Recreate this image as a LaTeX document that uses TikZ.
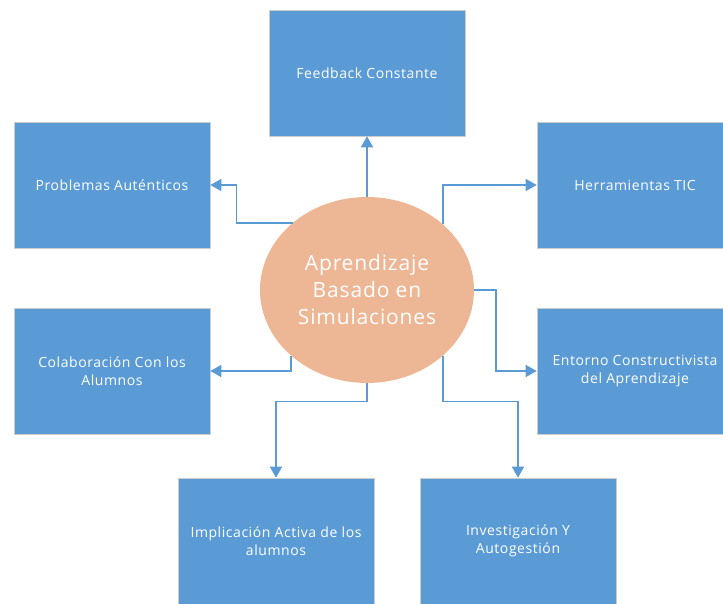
\documentclass[tikz,border=0pt]{standalone}
\usepackage{fontspec}
\setmainfont{Open Sans}
\newfontfamily\spacedfont[LetterSpace=4]{Open Sans}
\usepackage{tikz}
\usetikzlibrary{arrows.meta,shapes,calc}

\definecolor{boxblue}{RGB}{91,155,213}
\definecolor{salmon}{RGB}{237,183,150}

\begin{document}
\begin{tikzpicture} [ x=1pt, y=1pt,
		      every node/.style={text=white, align=center},
		      item/.style={rectangle, fill=boxblue, draw=black!20, line width=0.6pt,
		                   minimum width=196pt, minimum height=126pt,
		                   font=\spacedfont\fontsize{14}{18}\selectfont},
		      hub/.style={ellipse, fill=salmon, minimum width=214pt, minimum height=186pt,
		                  inner sep=0pt, font=\spacedfont\fontsize{21}{27}\selectfont},
		      link/.style={draw=boxblue, line width=1.6pt,
		                   -{Triangle[width=12pt,length=11pt]}}
		    ]
  \useasboundingbox (0,0) rectangle (723,604);

  \node[hub] (sim) at (367,314) {Aprendizaje\\Basado en\\Simulaciones};

  \node[item] (feed) at (367,531) {Feedback Constante};
  \node[item] (prob) at (112,419) {Problemas Auténticos};
  \node[item] (herr) at (635,419) {Herramientas TIC};
  \node[item] (colab) at (112,233) {Colaboración Con los\\Alumnos};
  \node[item] (entor) at (635,233) {Entorno Constructivista\\del Aprendizaje};
  \node[item] (impl) at (276,63) {Implicación Activa de los\\alumnos};
  \node[item] (inves) at (518,63) {Investigación Y\\Autogestión};

  \draw[link] (sim.north) -- (feed.south);
  \draw[link] (sim.138) -| ($(prob.east)+(26,0)$) -- (prob.east);
  \draw[link] (sim.41) |- (herr.west);
  \draw[link] (sim.east) -- ++(22,0) |- (entor.west);
  \draw[link] (sim.221) |- (colab.east);
  \draw[link] (sim.south) |- ($(impl.north)+(0,76)$) -- (impl.north);
  \draw[link] (sim.-41) |- ($(inves.north)+(0,76)$) -- (inves.north);
\end{tikzpicture}
\end{document}
